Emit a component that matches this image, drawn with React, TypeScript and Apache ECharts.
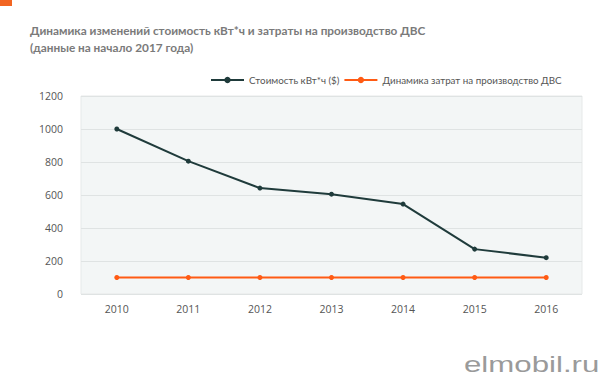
import React, { useEffect, useRef } from "react";
import * as echarts from "echarts";

const years = ["2010", "2011", "2012", "2013", "2014", "2015", "2016"];
const kwhCost = [1000, 805, 642, 605, 545, 272, 220];
const iceCost = [100, 100, 100, 100, 100, 100, 100];
const titleText = "Динамика изменений стоимость кВт*ч и затраты на производство ДВС\n(данные на начало 2017 года)";

export default function App() {
  const ref = useRef<HTMLDivElement>(null);
  useEffect(() => {
    if (!ref.current) return;
    const chart = echarts.init(ref.current, null, { renderer: "svg" });
    chart.setOption({
      animation: false,
      backgroundColor: "#ffffff",
      textStyle: { fontFamily: "Open Sans" },
      title: {
        text: titleText,
        left: 25,
        top: 17,
        textStyle: { fontSize: 11.8, fontWeight: "bold", color: "#7a7a7a", lineHeight: 17, fontFamily: "Lato" },
      },
      graphic: [
        { type: "rect", shape: { x: 0, y: 0, width: 12, height: 6 }, style: { fill: "#f26522" } },
        {
          type: "text",
          x: 464,
          y: 354,
          scaleX: 1.42,
          style: { text: "elmobil.ru", fontSize: 22, fill: "#9a9a9a", fontFamily: "Liberation Sans", verticalAlign: "top" },
        },
      ],
      legend: {
        top: 70,
        left: 205,
        itemWidth: 33,
        itemHeight: 8,
        itemGap: 4,
        textStyle: { fontSize: 9.8, color: "#555", fontFamily: "Lato" },
        data: ["Стоимость кВт*ч ($)", "Динамика затрат на производство ДВС"],
      },
      grid: {
        left: 81,
        right: 18,
        top: 96,
        bottom: 84,
        show: true,
        backgroundColor: "#f3f6f6",
        borderColor: "#e6e9e9",
        borderWidth: 1,
      },
      xAxis: {
        type: "category",
        data: years,
        boundaryGap: true,
        axisLine: { show: false },
        axisTick: { show: false },
        axisLabel: { fontSize: 10.5, color: "#555", margin: 9 },
        splitLine: { show: false },
      },
      yAxis: {
        type: "value",
        min: 0,
        max: 1200,
        interval: 200,
        axisLine: { show: false },
        axisTick: { show: false },
        axisLabel: { fontSize: 10.5, color: "#555", margin: 18, formatter: (v: number) => String(v) },
        splitLine: { lineStyle: { color: "#dfe3e3", width: 1 } },
      },
      series: [
        {
          name: "Стоимость кВт*ч ($)",
          type: "line",
          data: kwhCost,
          symbol: "circle",
          symbolSize: 5,
          lineStyle: { color: "#1f3b3b", width: 2 },
          itemStyle: { color: "#1f3b3b" },
        },
        {
          name: "Динамика затрат на производство ДВС",
          type: "line",
          data: iceCost,
          symbol: "circle",
          symbolSize: 5,
          lineStyle: { color: "#ff5b14", width: 2 },
          itemStyle: { color: "#ff5b14" },
        },
      ],
    });
    return () => chart.dispose();
  }, []);
  return <div ref={ref} style={{ width: 600, height: 378, position: "absolute", left: 0, top: 0 }} />;
}
